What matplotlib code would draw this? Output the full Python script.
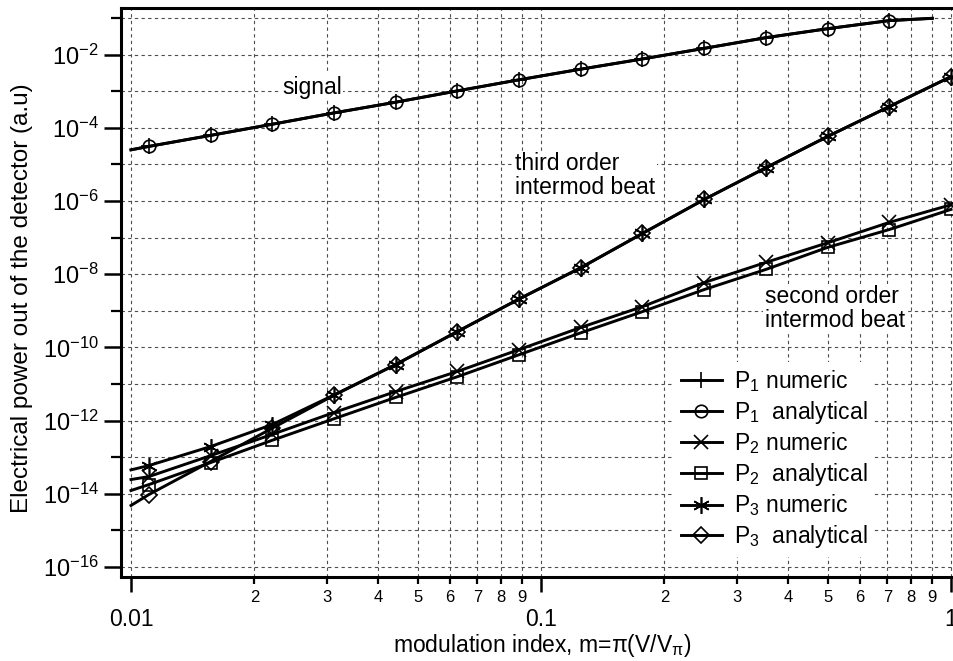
import matplotlib
matplotlib.use('Agg')
import matplotlib.pyplot as plt
from matplotlib.ticker import FixedLocator, FixedFormatter, NullFormatter

plt.rcParams['font.family'] = ['Liberation Sans', 'DejaVu Sans']
plt.rcParams['mathtext.fontset'] = 'custom'
plt.rcParams['mathtext.rm'] = 'Liberation Sans'

# modulation index where the markers sit (steps of sqrt(2))
m_pts = [0.01105, 0.01563, 0.0221, 0.03125, 0.0442, 0.0625, 0.0884,
         0.125, 0.1768, 0.25, 0.3536, 0.5, 0.7071, 1.0]

# signal line runs from 0.01 to 0.9, markers only on m_pts (without 1.0)
sig_x = [0.01] + m_pts[:-1] + [0.9]
sig_y = [2.5e-5, 3.1e-5, 6.2e-5, 1.25e-4, 2.55e-4, 5.0e-4, 1.02e-3, 2.05e-3,
         4.0e-3, 7.6e-3, 1.48e-2, 2.9e-2, 5.1e-2, 8.5e-2, 9.8e-2]

# intermod beats, line from 0.01 to 1
im_x = [0.01] + m_pts
p2_num = [2.45e-14, 2.95e-14, 1.1e-13, 4.2e-13, 1.66e-12, 6.2e-12, 2.2e-11,
          8.7e-11, 3.5e-10, 1.3e-9, 5.9e-9, 2.1e-8, 7.2e-8, 2.6e-7, 7.9e-7]
p2_ana = [1.23e-14, 1.78e-14, 7.1e-14, 2.9e-13, 1.12e-12, 4.3e-12, 1.58e-11,
          6.3e-11, 2.5e-10, 9.5e-10, 3.8e-9, 1.35e-8, 5.4e-8, 1.66e-7, 5.9e-7]
p3_num = [4.5e-14, 5.9e-14, 1.95e-13, 7.8e-13, 5.0e-12, 3.4e-11, 2.7e-10,
          2.1e-9, 1.5e-8, 1.3e-7, 1.1e-6, 8.1e-6, 5.8e-5, 3.8e-4, 2.5e-3]
p3_ana = [4.8e-15, 9.5e-15, 7.6e-14, 6.2e-13, 4.9e-12, 3.4e-11, 2.7e-10,
          2.1e-9, 1.5e-8, 1.3e-7, 1.1e-6, 8.1e-6, 5.8e-5, 3.8e-4, 2.5e-3]

x_major = [0.01, 0.1, 1]
x_major_lbl = ['0.01', '0.1', '1']
x_minor = [d * 0.01 for d in range(2, 10)] + [d * 0.1 for d in range(2, 10)]
x_minor_lbl = [str(d) for d in range(2, 10)] * 2
y_major = [10.0 ** e for e in range(-16, 0, 2)]
y_major_lbl = [r'$\mathregular{10^{%d}}$' % e for e in range(-16, 0, 2)]
y_minor = [10.0 ** e for e in range(-15, 0, 2)]

fig = plt.figure(figsize=(9.54, 6.61), dpi=100)
ax = fig.add_axes([121 / 954, 84 / 661, 835 / 954, 569 / 661])

lw = 2.1
mk = dict(mfc='none', mec='k', mew=1.2)
ax.plot(sig_x, sig_y, 'k-', lw=lw, marker='+', ms=11, markevery=slice(1, 14),
        mew=1.2, label=r'$\mathregular{P_1}$ numeric')
ax.plot(sig_x, sig_y, 'k-', lw=lw, marker='o', ms=9, markevery=slice(1, 14),
        label=r'$\mathregular{P_1}$  analytical', **mk)
ax.plot(im_x, p2_num, 'k-', lw=lw, marker='x', ms=10, markevery=slice(1, None),
        mew=1.2, label=r'$\mathregular{P_2}$ numeric')
ax.plot(im_x, p2_ana, 'k-', lw=lw, marker='s', ms=9, markevery=slice(1, None),
        label=r'$\mathregular{P_2}$  analytical', **mk)
ax.plot(im_x, p3_num, 'k-', lw=lw, marker=(6, 2, 0), ms=12, markevery=slice(1, None),
        mew=1.2, label=r'$\mathregular{P_3}$ numeric')
ax.plot(im_x, p3_ana, 'k-', lw=lw, marker='D', ms=8, markevery=slice(1, None),
        label=r'$\mathregular{P_3}$  analytical', **mk)

ax.set_xscale('log')
ax.set_yscale('log')
ax.set_xlim(10 ** (-2 - 10 / 410), 10 ** (5 / 410))
ax.set_ylim(10 ** (-16 - 10 / 36.6), 10 ** (-1 + 10 / 36.6))

ax.xaxis.set_major_locator(FixedLocator(x_major))
ax.xaxis.set_major_formatter(FixedFormatter(x_major_lbl))
ax.xaxis.set_minor_locator(FixedLocator(x_minor))
ax.xaxis.set_minor_formatter(FixedFormatter(x_minor_lbl))
ax.yaxis.set_major_locator(FixedLocator(y_major))
ax.yaxis.set_major_formatter(FixedFormatter(y_major_lbl))
ax.yaxis.set_minor_locator(FixedLocator(y_minor))
ax.yaxis.set_minor_formatter(NullFormatter())

ax.tick_params(axis='x', which='major', direction='out', length=11, width=1.8,
               pad=11, labelsize=16.5)
ax.tick_params(axis='x', which='minor', direction='out', length=5, width=1.6,
               pad=4, labelsize=12)
ax.tick_params(axis='y', which='major', direction='out', length=12, width=1.8,
               pad=4, labelsize=17)
ax.tick_params(axis='y', which='minor', direction='out', length=7, width=1.6)

for s in ['left', 'bottom', 'top']:
    ax.spines[s].set_linewidth(2.2)
ax.spines['right'].set_visible(False)

ax.grid(True, which='both', ls=(0, (3, 3)), color='0.3', lw=0.8)
ax.set_axisbelow(True)

ax.set_xlabel(r'modulation index, m=π(V/V$\mathregular{_{π}}$)', fontsize=16.5)
ax.xaxis.set_label_coords(0.504, -0.097)
ax.set_ylabel('Electrical power out of the detector (a.u)', fontsize=17.5)
ax.yaxis.set_label_coords(-0.105, 0.49)

box = dict(fc='white', ec='none', pad=1)
ax.text(0.229, 0.861, 'signal', transform=ax.transAxes, fontsize=16.5,
        ha='center', va='center', bbox=box)
ax.text(0.472, 0.705, 'third order\nintermod beat', transform=ax.transAxes,
        fontsize=16.5, ha='left', va='center', linespacing=1.05, bbox=box)
ax.text(0.771, 0.472, 'second order\nintermod beat', transform=ax.transAxes,
        fontsize=16.5, ha='left', va='center', linespacing=1.05, bbox=box)

leg = ax.legend(loc='center', bbox_to_anchor=(0.782, 0.207), fontsize=16.5,
                frameon=True, fancybox=False, framealpha=1, edgecolor='none',
                handlelength=1.8, handletextpad=0.5, labelspacing=0.2,
                borderpad=0.3)

fig.savefig('out.png', dpi=100)
